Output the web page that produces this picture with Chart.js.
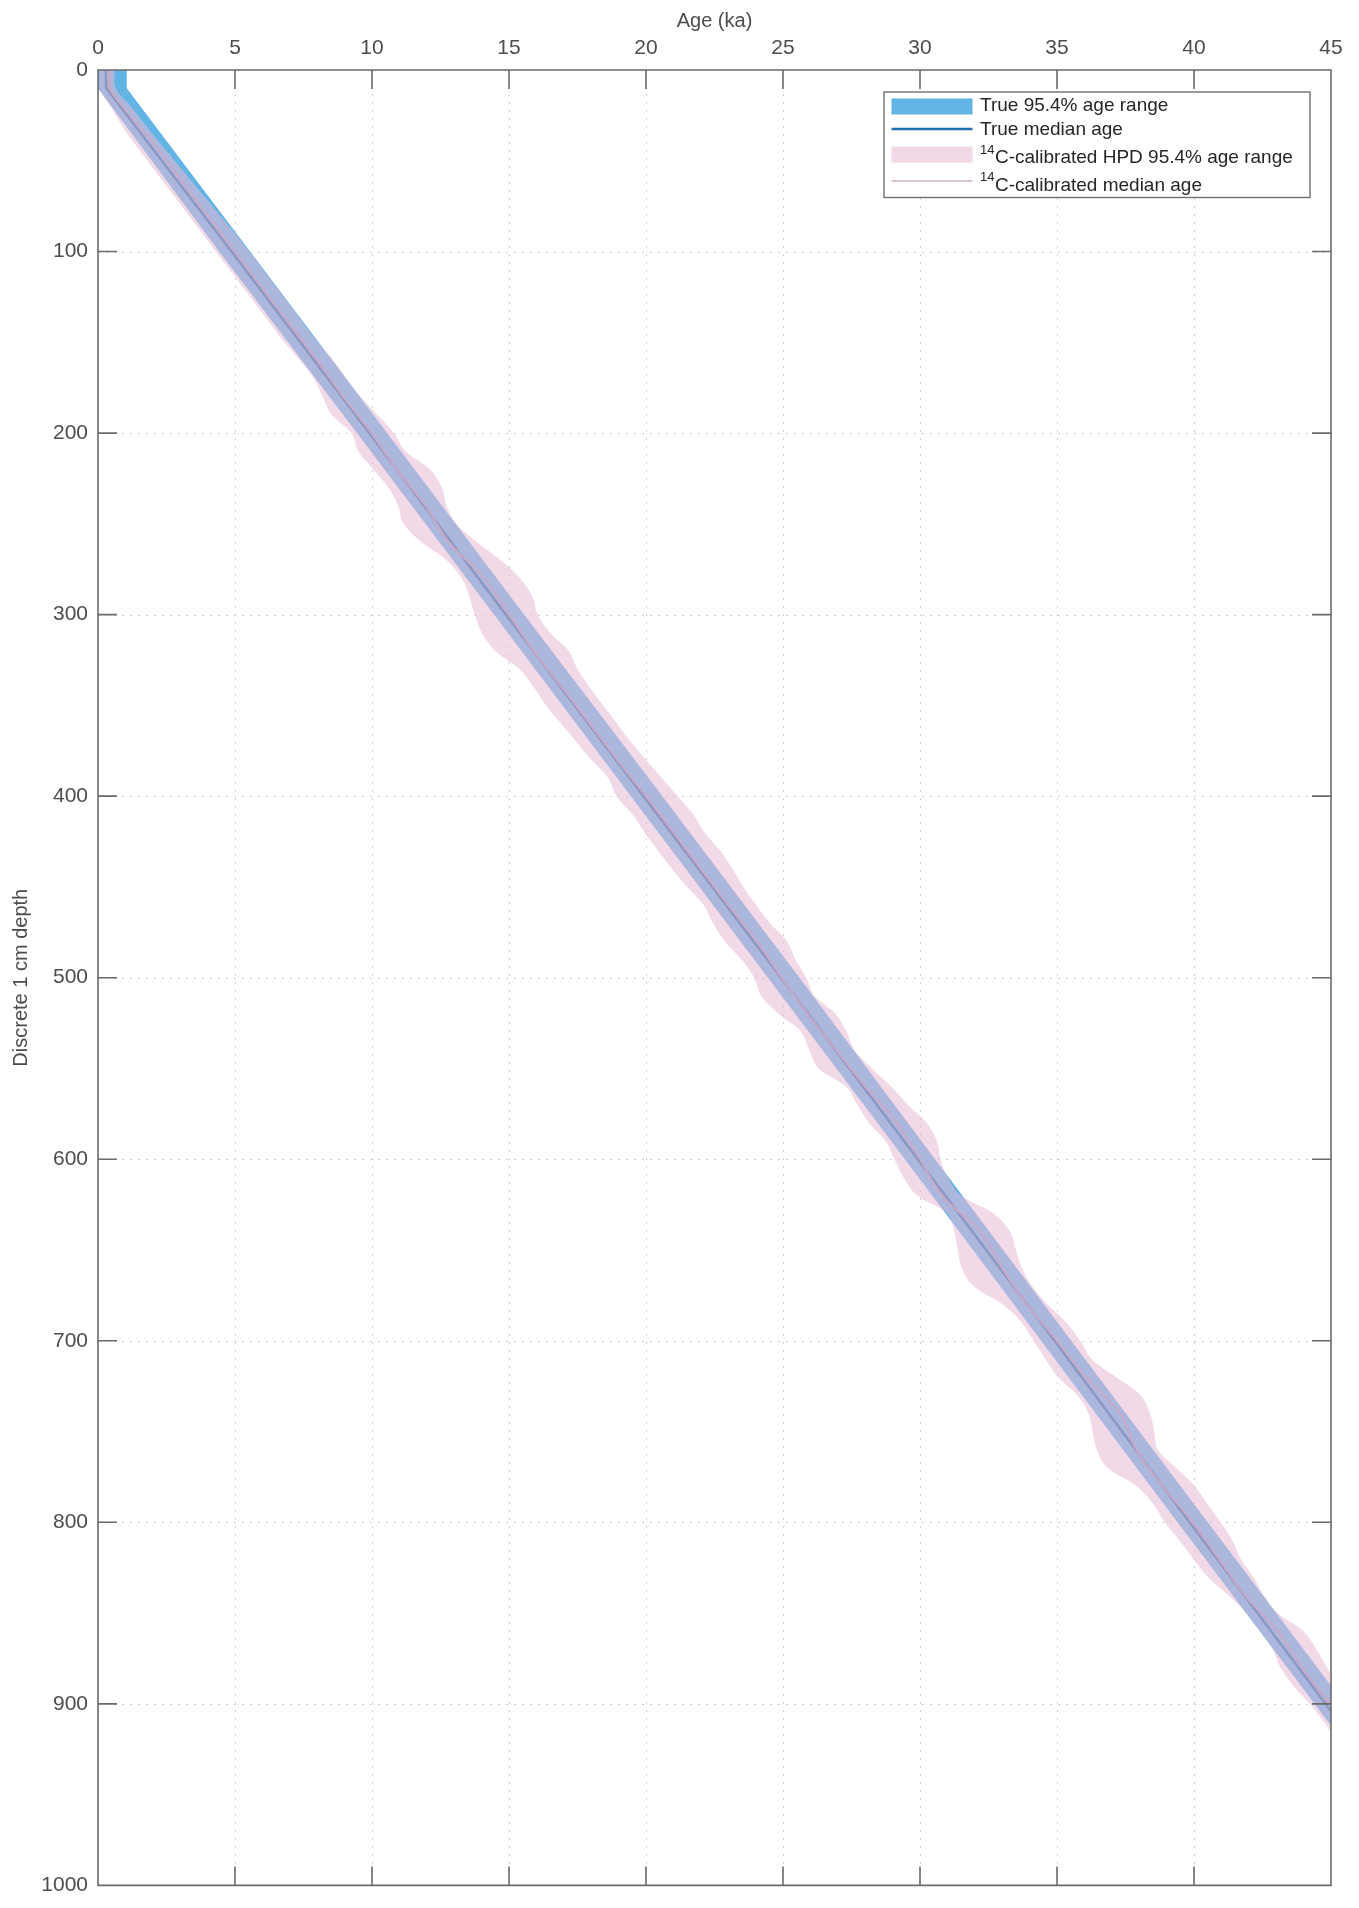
<!DOCTYPE html>
<html lang="en">
<head>
    <meta charset="UTF-8">
    <title>True vs 14C-calibrated age-depth model</title>
    <style>
        html, body {
            margin: 0;
            padding: 0;
            background: #fff;
        }

        .chart-box {
            position: relative;
            width: 1359px;
            height: 1908px;
        }
    </style>
</head>
<body>
    <div class="chart-box">
        <canvas id="ageDepth"></canvas>
    </div>

    <script src="https://cdn.jsdelivr.net/npm/chart.js"></script>
    <script>
        // Values: depth in cm, ages in ka
        const trueDepth  = [0, 10, 100, 200, 300, 400, 500, 600, 700, 800, 900, 940];
        const trueLow    = [0, 0, 4.42, 9.45, 14.45, 19.45, 24.45, 29.45, 34.42, 39.40, 44.40, 46.40];
        const trueHigh   = [1.05, 1.05, 5.55, 10.55, 15.55, 20.60, 25.60, 30.55, 35.52, 40.50, 45.50, 47.50];
        const trueMedian = [0.28, 0.30, 4.87, 9.90, 14.88, 19.91, 24.93, 29.92, 34.91, 39.84, 44.80, 46.80];

        const hpdDepth = [0, 10, 20, 30, 40, 50, 60, 70, 80, 90,
            100, 110, 120, 130, 140, 150, 160, 170, 180, 190,
            200, 210, 220, 230, 240, 250, 260, 270, 280, 290,
            300, 310, 320, 330, 340, 350, 360, 370, 380, 390,
            400, 410, 420, 430, 440, 450, 460, 470, 480, 490,
            500, 510, 520, 530, 540, 550, 560, 570, 580, 590,
            600, 610, 620, 630, 640, 650, 660, 670, 680, 690,
            700, 710, 720, 730, 740, 750, 760, 770, 780, 790,
            800, 810, 820, 830, 840, 850, 860, 870, 880, 890,
            900, 910, 920, 930];
        const hpdLow = [0.05, 0.05, 0.45, 0.85, 1.30, 1.80, 2.30, 2.80, 3.30, 3.80,
            4.30, 4.80, 5.30, 5.80, 6.30, 6.80, 7.37, 7.88, 8.20, 8.53,
            9.25, 9.50, 10.05, 10.60, 10.95, 11.15, 11.80, 12.72, 13.28, 13.55,
            13.75, 14.00, 14.50, 15.38, 15.90, 16.35, 16.90, 17.46, 18.00, 18.62,
            18.92, 19.50, 19.95, 20.44, 20.94, 21.50, 22.10, 22.45, 22.88, 23.48,
            23.95, 24.20, 24.85, 25.67, 25.96, 26.30, 27.30, 27.71, 28.14, 28.74,
            29.07, 29.40, 29.90, 31.00, 31.25, 31.38, 31.52, 31.95, 33.02, 33.72,
            34.14, 34.58, 35.03, 35.74, 36.15, 36.30, 36.45, 36.84, 37.90, 38.52,
            38.93, 39.47, 39.97, 40.49, 41.25, 41.90, 42.40, 42.88, 43.15, 43.62,
            44.22, 44.74, 45.18, 45.70];
        const hpdHigh = [0.60, 0.65, 1.20, 1.72, 2.25, 2.80, 3.35, 3.90, 4.45, 5.00,
            5.52, 6.02, 6.52, 7.02, 7.52, 8.02, 8.60, 9.08, 9.59, 10.20,
            10.80, 11.22, 12.12, 12.55, 12.72, 13.08, 13.82, 14.70, 15.40, 15.85,
            16.05, 16.50, 17.18, 17.50, 17.94, 18.44, 18.94, 19.44, 20.00, 20.58,
            21.15, 21.72, 22.13, 22.70, 23.15, 23.55, 24.02, 24.53, 25.15, 25.45,
            25.85, 26.15, 26.92, 27.33, 27.62, 28.25, 28.95, 29.55, 30.25, 30.62,
            30.75, 31.02, 31.50, 32.70, 33.29, 33.50, 33.72, 34.10, 34.65, 35.35,
            35.85, 36.26, 37.15, 38.05, 38.40, 38.55, 38.68, 39.35, 40.02, 40.50,
            40.97, 41.40, 41.70, 42.16, 42.54, 43.05, 44.00, 44.47, 44.85, 45.30,
            45.80, 46.30, 46.80, 47.30];

        const calDepth = [0, 10, 20, 40, 60, 80, 100, 120, 140, 160, 180,
            200, 220, 240, 260, 280, 300, 320, 340, 360, 380,
            400, 420, 440, 460, 480, 500, 520, 540, 560, 580,
            600, 620, 640, 660, 680, 700, 720, 740, 760, 780,
            800, 820, 840, 860, 880, 900, 920];
        const calMedian = [0.43, 0.43, 0.90, 2.00, 3.00, 4.00, 5.00, 6.00, 7.00, 8.00, 8.95,
            9.98, 10.90, 11.95, 12.80, 14.10, 15.00, 15.90, 16.93, 17.95, 18.95,
            20.00, 21.00, 22.00, 23.00, 24.05, 24.95, 25.90, 26.95, 28.00, 29.15,
            30.00, 30.80, 32.20, 33.00, 33.90, 35.00, 36.05, 37.30, 37.90, 38.85,
            39.95, 40.90, 41.85, 43.05, 43.95, 44.95, 46.00];

        const xTicks = [0, 5, 10, 15, 20, 25, 30, 35, 40, 45];
        const yTicks = [0, 100, 200, 300, 400, 500, 600, 700, 800, 900, 1000];

        const blueFill = '#62b4e4';
        const blueLine = '#1f6eb0';
        const pinkFill = 'rgba(232, 186, 213, 0.55)';
        const pinkLine = '#cba9c6';
        const axisGrey = '#6b6b6b';
        const textGrey = '#4d4d4d';

        // closed outline: low edge going down, high edge coming back up
        function bandShape(depths, low, high) {
            const pts = depths.map((d, i) => ({ x: low[i], y: d }));
            for (let i = depths.length - 1; i >= 0; i--) {
                pts.push({ x: high[i], y: depths[i] });
            }
            return pts;
        }

        function linePoints(depths, ages) {
            return depths.map((d, i) => ({ x: ages[i], y: d }));
        }

        // dotted grid under the data, box and inward ticks on top
        const axisFrame = {
            id: 'axisFrame',
            beforeDatasetsDraw(chart) {
                const { ctx, chartArea: a, scales } = chart;
                ctx.save();
                ctx.strokeStyle = '#d0d0d0';
                ctx.lineWidth = 1;
                ctx.setLineDash([2, 6]);
                ctx.beginPath();
                xTicks.slice(1, -1).forEach(v => {
                    const px = Math.round(scales.x.getPixelForValue(v)) + 0.5;
                    ctx.moveTo(px, a.top);
                    ctx.lineTo(px, a.bottom);
                });
                yTicks.slice(1, -1).forEach(v => {
                    const py = Math.round(scales.y.getPixelForValue(v)) + 0.5;
                    ctx.moveTo(a.left, py);
                    ctx.lineTo(a.right, py);
                });
                ctx.stroke();
                ctx.restore();
            },
            afterDatasetsDraw(chart) {
                const { ctx, chartArea: a, scales } = chart;
                const len = 19;
                ctx.save();
                ctx.strokeStyle = axisGrey;
                ctx.lineWidth = 1.6;
                ctx.beginPath();
                ctx.rect(a.left, a.top, a.right - a.left, a.bottom - a.top);
                xTicks.forEach(v => {
                    const px = scales.x.getPixelForValue(v);
                    ctx.moveTo(px, a.top);
                    ctx.lineTo(px, a.top + len);
                    ctx.moveTo(px, a.bottom);
                    ctx.lineTo(px, a.bottom - len);
                });
                yTicks.forEach(v => {
                    const py = scales.y.getPixelForValue(v);
                    ctx.moveTo(a.left, py);
                    ctx.lineTo(a.left + len, py);
                    ctx.moveTo(a.right, py);
                    ctx.lineTo(a.right - len, py);
                });
                ctx.stroke();
                ctx.restore();
            }
        };

        // legend with superscript 14
        const legendBox = {
            id: 'legendBox',
            afterDraw(chart) {
                const { ctx, chartArea: a } = chart;
                const right = a.right - 21;
                const left = right - 426;
                const top = a.top + 22;
                const sx = left + 7.5;
                const sw = 81;
                const tx = left + 96;
                const font = "19px 'Liberation Sans', Arial, sans-serif";
                const supFont = "13px 'Liberation Sans', Arial, sans-serif";

                ctx.save();
                ctx.fillStyle = '#fff';
                ctx.fillRect(left, top, right - left, 105.5);
                ctx.strokeStyle = '#707070';
                ctx.lineWidth = 1.4;
                ctx.strokeRect(left, top, right - left, 105.5);

                // row 1: true range
                ctx.fillStyle = blueFill;
                ctx.fillRect(sx, a.top + 28.5, sw, 16);
                // row 2: true median
                ctx.strokeStyle = blueLine;
                ctx.lineWidth = 2.5;
                ctx.beginPath();
                ctx.moveTo(sx, a.top + 59);
                ctx.lineTo(sx + sw, a.top + 59);
                ctx.stroke();
                // row 3: HPD range
                ctx.fillStyle = pinkFill;
                ctx.fillRect(sx, a.top + 76.5, sw, 16);
                // row 4: calibrated median
                ctx.strokeStyle = '#dcc3d4';
                ctx.lineWidth = 2;
                ctx.beginPath();
                ctx.moveTo(sx, a.top + 111);
                ctx.lineTo(sx + sw, a.top + 111);
                ctx.stroke();

                ctx.fillStyle = '#262626';
                ctx.textBaseline = 'alphabetic';
                ctx.textAlign = 'left';
                ctx.font = font;
                ctx.fillText('True 95.4% age range', tx, a.top + 41);
                ctx.fillText('True median age', tx, a.top + 65);

                const supRows = [
                    { text: 'C-calibrated HPD 95.4% age range', base: a.top + 93 },
                    { text: 'C-calibrated median age', base: a.top + 120.5 }
                ];
                supRows.forEach(r => {
                    ctx.font = supFont;
                    ctx.fillText('14', tx, r.base - 9.5);
                    const w = ctx.measureText('14').width;
                    ctx.font = font;
                    ctx.fillText(r.text, tx + w + 0.5, r.base);
                });
                ctx.restore();
            }
        };

        Chart.defaults.font.family = "'Liberation Sans', Arial, Helvetica, sans-serif";
        Chart.defaults.color = textGrey;

        const ctx = document.getElementById('ageDepth').getContext('2d');
        const ageChart = new Chart(ctx, {
            type: 'line',
            data: {
                datasets: [
                    {
                        label: 'True 95.4% age range',
                        data: bandShape(trueDepth, trueLow, trueHigh),
                        backgroundColor: blueFill,
                        borderColor: 'rgba(0,0,0,0)',
                        borderWidth: 0,
                        fill: 'shape',
                        pointRadius: 0,
                        order: 4
                    },
                    {
                        label: 'True median age',
                        data: linePoints(trueDepth, trueMedian),
                        borderColor: blueLine,
                        borderWidth: 2.5,
                        fill: false,
                        pointRadius: 0,
                        order: 3
                    },
                    {
                        label: '14C-calibrated HPD 95.4% age range',
                        data: bandShape(hpdDepth, hpdLow, hpdHigh),
                        backgroundColor: pinkFill,
                        borderColor: 'rgba(0,0,0,0)',
                        borderWidth: 0,
                        fill: 'shape',
                        tension: 0.35,
                        pointRadius: 0,
                        order: 2
                    },
                    {
                        label: '14C-calibrated median age',
                        data: linePoints(calDepth, calMedian),
                        borderColor: pinkLine,
                        borderWidth: 2,
                        fill: false,
                        tension: 0.35,
                        pointRadius: 0,
                        order: 1
                    }
                ]
            },
            options: {
                responsive: true,
                maintainAspectRatio: false,
                animation: false,
                devicePixelRatio: 1,
                layout: {
                    padding: { left: 0, top: 0, right: 28, bottom: 8 }
                },
                plugins: {
                    legend: { display: false },
                    tooltip: { enabled: false }
                },
                scales: {
                    x: {
                        type: 'linear',
                        position: 'top',
                        min: 0,
                        max: 45,
                        afterBuildTicks: s => { s.ticks = xTicks.map(v => ({ value: v })); },
                        afterFit: s => { s.height = 70; },
                        grid: { display: false, drawTicks: false },
                        border: { display: false },
                        ticks: {
                            autoSkip: false,
                            maxRotation: 0,
                            padding: 9,
                            color: textGrey,
                            font: { size: 21 },
                            callback: v => String(v)
                        },
                        title: {
                            display: true,
                            text: 'Age (ka)',
                            color: textGrey,
                            font: { size: 20 },
                            padding: { top: 9, bottom: 0 }
                        }
                    },
                    y: {
                        type: 'linear',
                        reverse: true,
                        min: 0,
                        max: 1000,
                        afterBuildTicks: s => { s.ticks = yTicks.map(v => ({ value: v })); },
                        afterFit: s => { s.width = 98; },
                        grid: { display: false, drawTicks: false },
                        border: { display: false },
                        ticks: {
                            autoSkip: false,
                            padding: 10,
                            color: textGrey,
                            font: { size: 21 },
                            callback: v => String(v)
                        },
                        title: {
                            display: true,
                            text: 'Discrete 1 cm depth',
                            color: textGrey,
                            font: { size: 20 },
                            padding: { top: 9, bottom: 0 }
                        }
                    }
                }
            },
            plugins: [axisFrame, legendBox]
        });
    </script>
</body>
</html>
